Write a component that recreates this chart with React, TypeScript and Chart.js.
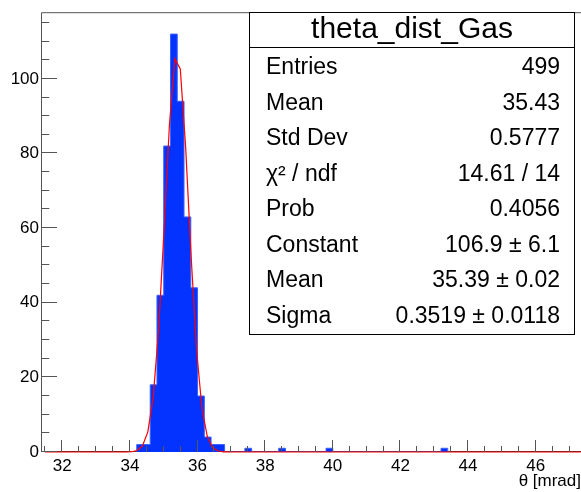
import React, { useEffect, useRef } from 'react';
import { Chart, registerables } from 'chart.js';

Chart.register(...registerables);

const FONT = "'Liberation Sans', Arial, Helvetica, sans-serif";

// Histogram bins (width 0.2 mrad), non-empty bins only
const binWidth = 0.2;
const binLowEdges = [34.2, 34.4, 34.6, 34.8, 35.0, 35.2, 35.4, 35.6, 35.8, 36.0, 36.2, 36.4, 36.6, 37.4, 38.4, 39.8, 43.2];
const binCounts = [2, 2, 18, 42, 82, 112, 94, 63, 44, 15, 4, 2, 2, 1, 1, 1, 1];

const xAxisRange = [31.4, 47.34];
const yAxisRange = [0, 117.6];
const xTickLabels = [32, 34, 36, 38, 40, 42, 44, 46];
const yTickLabels = [0, 20, 40, 60, 80, 100];
const xTitle = 'θ [mrad]';

// Gaussian fit parameters
const fitConstant = 106.9;
const fitMean = 35.39;
const fitSigma = 0.3519;
const fitRange = [31.33, 47.33];
const fitSamples = 100;

const statsTitle = 'theta_dist_Gas';
const statsLabels = ['Entries', 'Mean', 'Std Dev', 'χ² / ndf', 'Prob', 'Constant', 'Mean', 'Sigma'];
const statsValues = ['499', '35.43', '0.5777', '14.61 / 14', '0.4056', '106.9 ± 6.1', '35.39 ± 0.02', '0.3519 ± 0.0118'];

function buildHistPoints() {
  const pts: { x: number; y: number }[] = [];
  for (let i = 0; i < binLowEdges.length; i++) {
    const lo = binLowEdges[i];
    const hi = lo + binWidth;
    const prevContiguous = i > 0 && Math.abs(binLowEdges[i - 1] + binWidth - lo) < 1e-6;
    const nextContiguous = i < binLowEdges.length - 1 && Math.abs(binLowEdges[i + 1] - hi) < 1e-6;
    if (!prevContiguous) pts.push({ x: lo, y: 0 });
    pts.push({ x: lo, y: binCounts[i] });
    if (!nextContiguous) {
      pts.push({ x: hi, y: binCounts[i] });
      pts.push({ x: hi, y: 0 });
    }
  }
  return pts;
}

function buildFitPoints() {
  const pts: { x: number; y: number }[] = [];
  const [a, b] = fitRange;
  for (let i = 0; i <= fitSamples; i++) {
    const x = a + ((b - a) * i) / fitSamples;
    if (x < xAxisRange[0] || x > xAxisRange[1]) continue;
    const z = (x - fitMean) / fitSigma;
    pts.push({ x, y: fitConstant * Math.exp(-0.5 * z * z) });
  }
  return pts;
}

const rootPlugin = {
  id: 'rootStyle',
  beforeDatasetsDraw(chart: any) {
    const { ctx, chartArea: a } = chart;
    ctx.save();
    ctx.strokeStyle = '#333';
    ctx.lineWidth = 1;
    ctx.beginPath();
    ctx.moveTo(a.left - 0.5, a.bottom - 0.5);
    ctx.lineTo(a.right + 1, a.bottom - 0.5);
    ctx.stroke();
    ctx.restore();
  },
  afterDatasetsDraw(chart: any) {
    const { ctx, chartArea: a, scales } = chart;
    const xs = scales.x;
    const ys = scales.y;
    ctx.save();
    ctx.strokeStyle = '#555';
    ctx.lineWidth = 1;
    ctx.beginPath();
    ctx.moveTo(a.left - 0.5, a.bottom);
    ctx.lineTo(a.left - 0.5, a.top - 0.5);
    ctx.lineTo(a.right + 1, a.top - 0.5);
    for (let v = 0; v <= yAxisRange[1]; v += 5) {
      const py = Math.round(ys.getPixelForValue(v)) - 0.5;
      const len = v % 20 === 0 ? 15.5 : 7.8;
      ctx.moveTo(a.left - 0.5, py);
      ctx.lineTo(a.left - 0.5 + len, py);
    }
    for (let k = Math.ceil(xAxisRange[0] * 2); k <= Math.floor(xAxisRange[1] * 2); k++) {
      const v = k / 2;
      const px = Math.round(xs.getPixelForValue(v)) - 0.5;
      const len = k % 4 === 0 ? 12 : 6;
      ctx.moveTo(px, a.bottom);
      ctx.lineTo(px, a.bottom - len);
    }
    ctx.stroke();
    ctx.restore();
  },
  afterDraw(chart: any) {
    const { ctx } = chart;
    const left = 249.5, right = 574.5, top = 12.5, bottom = 334.5, divider = 47.5;
    ctx.save();
    ctx.fillStyle = '#fff';
    ctx.fillRect(left, top, right - left, bottom - top);
    ctx.strokeStyle = '#000';
    ctx.lineWidth = 1;
    ctx.strokeRect(left, top, right - left, bottom - top);
    ctx.beginPath();
    ctx.moveTo(left, divider);
    ctx.lineTo(right, divider);
    ctx.stroke();
    ctx.fillStyle = '#000';
    ctx.textBaseline = 'middle';
    ctx.font = `30px ${FONT}`;
    ctx.textAlign = 'center';
    ctx.fillText(statsTitle, (left + right) / 2, 30);
    ctx.font = `23px ${FONT}`;
    for (let i = 0; i < statsLabels.length; i++) {
      const y = 68 + i * 35.5;
      ctx.textAlign = 'left';
      ctx.fillText(statsLabels[i], 266, y);
      ctx.textAlign = 'right';
      ctx.fillText(statsValues[i], 560, y);
    }
    ctx.restore();
  },
};

export default function App() {
  const canvasRef = useRef<HTMLCanvasElement | null>(null);

  useEffect(() => {
    const canvas = canvasRef.current;
    if (!canvas) return;
    const chart = new Chart(canvas, {
      type: 'line',
      data: {
        datasets: [
          {
            label: 'fit',
            data: buildFitPoints(),
            borderColor: '#ff0000',
            borderWidth: 1.2,
            pointRadius: 0,
            fill: false,
            tension: 0,
            order: 0,
            clip: false,
          } as any,
          {
            label: 'hist',
            data: buildHistPoints(),
            stepped: 'before',
            borderColor: '#3a62ff',
            backgroundColor: '#0433ff',
            borderWidth: 1,
            pointRadius: 0,
            fill: 'origin',
            order: 1,
          } as any,
        ],
      },
      options: {
        responsive: false,
        animation: false,
        devicePixelRatio: 1,
        events: [],
        layout: { padding: { top: 9, left: 0, right: 0, bottom: 0 } },
        plugins: {
          legend: { display: false },
          tooltip: { enabled: false },
        },
        scales: {
          x: {
            type: 'linear',
            min: xAxisRange[0],
            max: xAxisRange[1],
            afterBuildTicks: (s: any) => {
              s.ticks = xTickLabels.map((v) => ({ value: v }));
            },
            afterFit: (s: any) => {
              s.height = 40;
            },
            grid: { display: false, drawTicks: false },
            border: { display: false },
            ticks: {
              color: '#000',
              font: { family: FONT, size: 17 },
              padding: 4,
              maxRotation: 0,
              autoSkip: false,
              callback: (v: any) => String(v),
            },
            title: {
              display: true,
              text: xTitle,
              align: 'end',
              color: '#000',
              font: { family: FONT, size: 17 },
              padding: { top: 0, bottom: 0 },
            },
          },
          y: {
            type: 'linear',
            min: yAxisRange[0],
            max: yAxisRange[1],
            afterBuildTicks: (s: any) => {
              s.ticks = yTickLabels.map((v) => ({ value: v }));
            },
            afterFit: (s: any) => {
              s.width = 42;
            },
            grid: { display: false, drawTicks: false },
            border: { display: false },
            ticks: {
              color: '#000',
              font: { family: FONT, size: 17 },
              padding: 3,
              autoSkip: false,
              callback: (v: any) => String(v),
            },
          },
        },
      } as any,
      plugins: [rootPlugin],
    });
    return () => chart.destroy();
  }, []);

  return (
    <div style={{ position: 'fixed', left: 0, top: 0, width: 581, height: 492, background: '#fff' }}>
      <canvas ref={canvasRef} width={581} height={492} style={{ display: 'block', width: 581, height: 492 }} />
    </div>
  );
}
